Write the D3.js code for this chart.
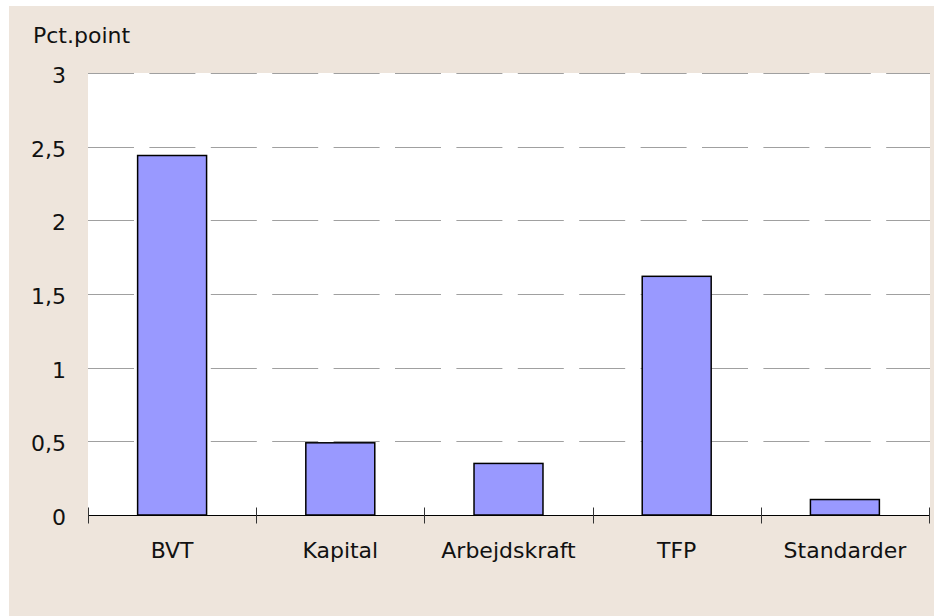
<!DOCTYPE html>
<html>
<head>
<meta charset="utf-8">
<script src="https://cdn.jsdelivr.net/npm/d3@7"></script>
<style>
  html, body { margin: 0; padding: 0; background: #ffffff; }
  svg { display: block; }
</style>
</head>
<body>
<svg id="chart" width="934" height="616"></svg>
<script>
const categories = ["BVT", "Kapital", "Arbejdskraft", "TFP", "Standarder"];
const values = [2.44, 0.49, 0.35, 1.62, 0.105];
const yTicks = [0, 0.5, 1, 1.5, 2, 2.5, 3];
const yTickLabels = ["0", "0,5", "1", "1,5", "2", "2,5", "3"];
const yAxisTitle = "Pct.point";

const svg = d3.select("#chart");
const W = 934, H = 616;
const plot = { left: 88, right: 929, top: 73, bottom: 515 };
const FONT = "'DejaVu Sans', Verdana, sans-serif";
const FS = 22;

// background
svg.append("rect").attr("x", 9).attr("y", 6).attr("width", W - 9).attr("height", H - 6).attr("fill", "#EEE5DC");
svg.append("rect").attr("x", plot.left).attr("y", plot.top)
  .attr("width", 930 - plot.left).attr("height", plot.bottom - plot.top).attr("fill", "#ffffff");

const x = d3.scaleBand().domain(categories).range([plot.left, plot.right]).padding(0);
const y = d3.scaleLinear().domain([0, 3]).range([plot.bottom, plot.top]);

// gridlines
svg.append("g").selectAll("line").data(yTicks.filter(v => v > 0)).join("line")
  .attr("x1", plot.left).attr("x2", 930)
  .attr("y1", d => Math.round(y(d)) + 0.5).attr("y2", d => Math.round(y(d)) + 0.5)
  .attr("stroke", "#a0a0a0").attr("stroke-width", 1)
  .attr("stroke-dasharray", "46,15.4");

// bars
const barFrac = 0.41;
svg.append("g").selectAll("rect").data(categories).join("rect")
  .attr("x", d => x(d) + x.bandwidth() * (1 - barFrac) / 2)
  .attr("width", x.bandwidth() * barFrac)
  .attr("y", (d, i) => y(values[i]))
  .attr("height", (d, i) => y(0) - y(values[i]))
  .attr("fill", "#9999FF").attr("stroke", "#000000").attr("stroke-width", 1.5);

// x axis line + boundary ticks
const axisY = Math.round(y(0)) + 0.5;
svg.append("line").attr("x1", plot.left).attr("x2", plot.right)
  .attr("y1", axisY).attr("y2", axisY).attr("stroke", "#000").attr("stroke-width", 1);
const bounds = categories.map(c => x(c)).concat([x.range()[1]]);
svg.append("g").selectAll("line").data(bounds).join("line")
  .attr("x1", d => Math.round(d) + 0.5).attr("x2", d => Math.round(d) + 0.5)
  .attr("y1", axisY - 8).attr("y2", axisY + 8)
  .attr("stroke", "#333").attr("stroke-width", 1);

// x labels via d3 axis
const xAxis = d3.axisBottom(x).tickSize(0).tickPadding(0);
const gx = svg.append("g").attr("transform", `translate(0, ${plot.bottom})`).call(xAxis);
gx.select(".domain").remove();
gx.selectAll("text").attr("font-family", FONT).attr("font-size", FS).attr("fill", "#111")
  .attr("dy", null).attr("y", 42.5);

// y labels via d3 axis
const yAxis = d3.axisLeft(y).tickValues(yTicks).tickFormat((d, i) => yTickLabels[i]).tickSize(0).tickPadding(0);
const gy = svg.append("g").attr("transform", `translate(66, 0)`).call(yAxis);
gy.select(".domain").remove();
gy.selectAll("text").attr("font-family", FONT).attr("font-size", FS).attr("fill", "#111")
  .attr("dy", "0.36em").attr("y", 1.5);

// axis title
svg.append("text").attr("x", 33).attr("y", 42.5).text(yAxisTitle)
  .attr("font-family", FONT).attr("font-size", FS).attr("fill", "#111");
</script>
</body>
</html>
